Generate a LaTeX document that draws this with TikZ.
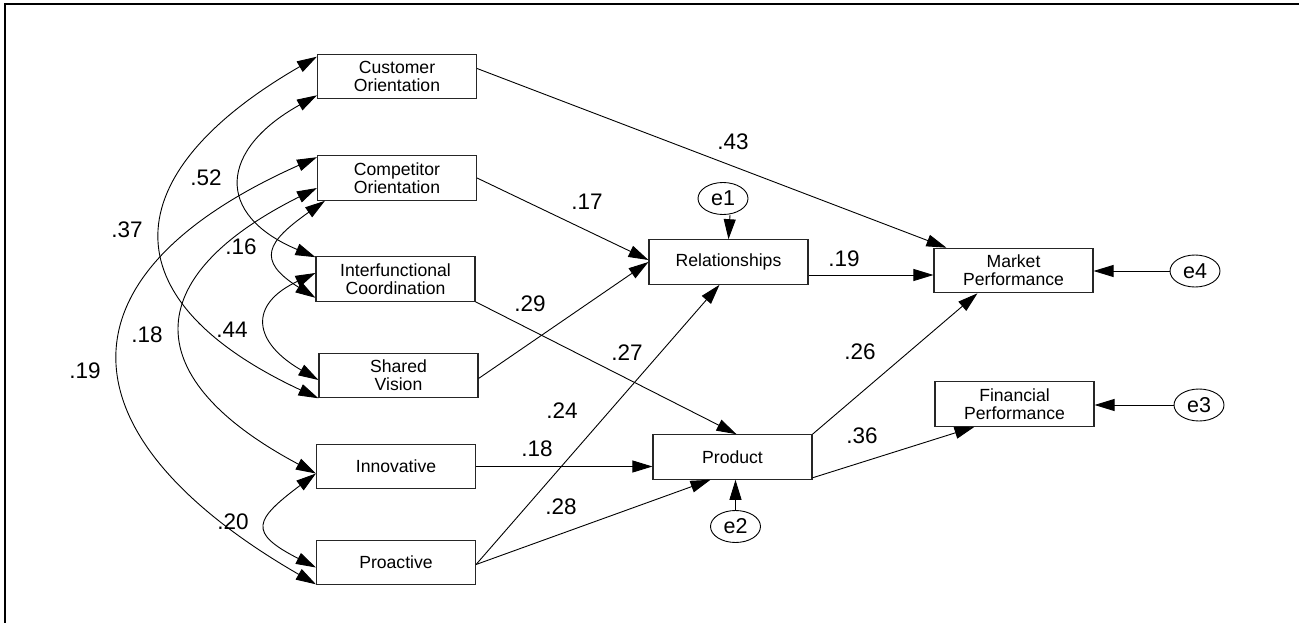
\documentclass[tikz,border=0pt]{standalone}
\usepackage{fontspec}
\setmainfont{Liberation Sans}
\usetikzlibrary{arrows.meta,shapes.geometric,calc}
\begin{document}
\begin{tikzpicture}[x=1pt,y=-1pt,
  box/.style={draw=black!85,line width=1.1pt,fill=white,minimum width=159pt,minimum height=44.5pt,inner sep=0pt,align=center,font=\fontsize{17.6}{17.6}\selectfont},
  err/.style={draw,ellipse,line width=0.9pt,minimum width=50pt,minimum height=32pt,inner sep=0pt,font=\fontsize{21.5}{21.5}\selectfont},
  lab/.style={font=\fontsize{22.5}{22.5}\selectfont,inner sep=0pt},
  conn/.style={line width=0.9pt,-{Triangle[length=20pt,width=12pt]}},
  cov/.style={line width=0.9pt,{Triangle[length=20pt,width=12pt]}-{Triangle[length=20pt,width=12pt]}},
  frame/.style={line width=2pt}
]
\useasboundingbox (0,0) rectangle (1299,623);
\draw[frame] (4.5,623) -- (4.5,4.5) -- (1299,4.5);

% boxes
\node[box] (cust)   at (397,76.5)   {Customer\\Orientation};
\node[box] (comp)   at (397,178)    {Competitor\\Orientation};
\node[box] (inter)  at (395.5,279)  {Interfunctional\\Coordination};
\node[box] (shared) at (398.5,375.5){Shared\\Vision};
\node[box] (innov)  at (396,466.5)  {Innovative};
\node[box] (proact) at (396,562.5)  {Proactive};
\node[box] (rel)    at (728.5,262)  {Relationships};
\node[box] (prod)   at (732.5,457)  {Product};
\node[box] (mkt)    at (1013.5,270.5){Market\\Performance};
\node[box] (fin)    at (1014.5,404) {Financial\\Performance};

% error terms
\node[err] (e1) at (723,198.5) {e1};
\node[err] (e2) at (735.5,526.5) {e2};
\node[err] (e4) at (1195,271) {e4};
\node[err] (e3) at (1199,405) {e3};

% covariances
\draw[cov] ([yshift=-3pt]cust.north west) .. controls +(-202.6,117) and +(-212,-99) .. (shared.south west);
\draw[cov] ([yshift=4pt]cust.south west) .. controls +(-97,54) and +(-102,-43) .. ([yshift=-1pt]inter.north west);
\draw[cov] ([yshift=-2pt]comp.north west) .. controls +(-268.6,119.6) and +(-254.6,-147) .. ([yshift=1pt]proact.south west);
\draw[cov] ([yshift=-10pt]comp.west) .. controls +(-180,90) and +(-177.5,-94.4) .. ([yshift=-7pt]innov.west);
\draw[cov] ([xshift=8pt]comp.south west) .. controls +(-58,41) and +(-60,-37.6) .. ([yshift=4pt]inter.south west);
\draw[cov] ([yshift=6pt]inter.west) .. controls +(-68,31.7) and +(-65,-37.5) .. ([yshift=-4.5pt]shared.west);
\draw[cov] ([yshift=-7pt]innov.west) .. controls +(-61.5,46.3) and +(-68.6,-35) .. ([yshift=-5pt]proact.west);

% paths
\draw[conn] ([yshift=8pt]cust.east) -- ([xshift=13pt]mkt.north west);
\draw[conn] (comp.east) -- ([yshift=2pt]rel.west);
\draw[conn] ([yshift=-3pt]shared.east) -- (rel.west);
\draw[conn] (inter.south east) -- ([xshift=4pt]prod.north);
\draw[conn] ([yshift=-2pt]proact.east) -- ([xshift=-9pt]rel.south);
\draw[conn] ([yshift=-2pt]proact.east) -- ([xshift=-22pt]prod.south);
\draw[conn] (innov.east) -- (innov.east -| prod.west);
\draw[conn] ([yshift=-13pt]rel.east) -- ([yshift=-4.5pt]mkt.west);
\draw[conn] (prod.north east) -- ([xshift=-36pt]mkt.south);
\draw[conn] ([yshift=2pt]prod.south east) -- ([xshift=-40pt]fin.south);
\draw[conn] (e4.west) -- (e4.west -| mkt.east);
\draw[conn] (e3.west) -- (e3.west -| fin.east);
\draw[conn] ([xshift=7pt]e1.south) -- (rel.north);
\draw[conn] (e2.north) -- (e2.north |- prod.south);

% labels
\node[lab] (l37) at (127,230) {.37};
\node[lab] (l52) at (206,178) {.52};
\node[lab] (l16) at (241,247) {.16};
\node[lab] (l44) at (232,330) {.44};
\node[lab] (l18a) at (147,335) {.18};
\node[lab] (l19a) at (85,371) {.19};
\node[lab] (l20) at (233,522) {.20};
\node[lab] (l43) at (733,142) {.43};
\node[lab] (l17) at (587,202) {.17};
\node[lab] (l29) at (530,304) {.29};
\node[lab] (l27) at (627,353) {.27};
\node[lab] (l24) at (562,411) {.24};
\node[lab] (l18b) at (537,449) {.18};
\node[lab] (l28) at (561,507) {.28};
\node[lab] (l19b) at (844,259) {.19};
\node[lab] (l26) at (860,352) {.26};
\node[lab] (l36) at (862,436) {.36};
\end{tikzpicture}
\end{document}
